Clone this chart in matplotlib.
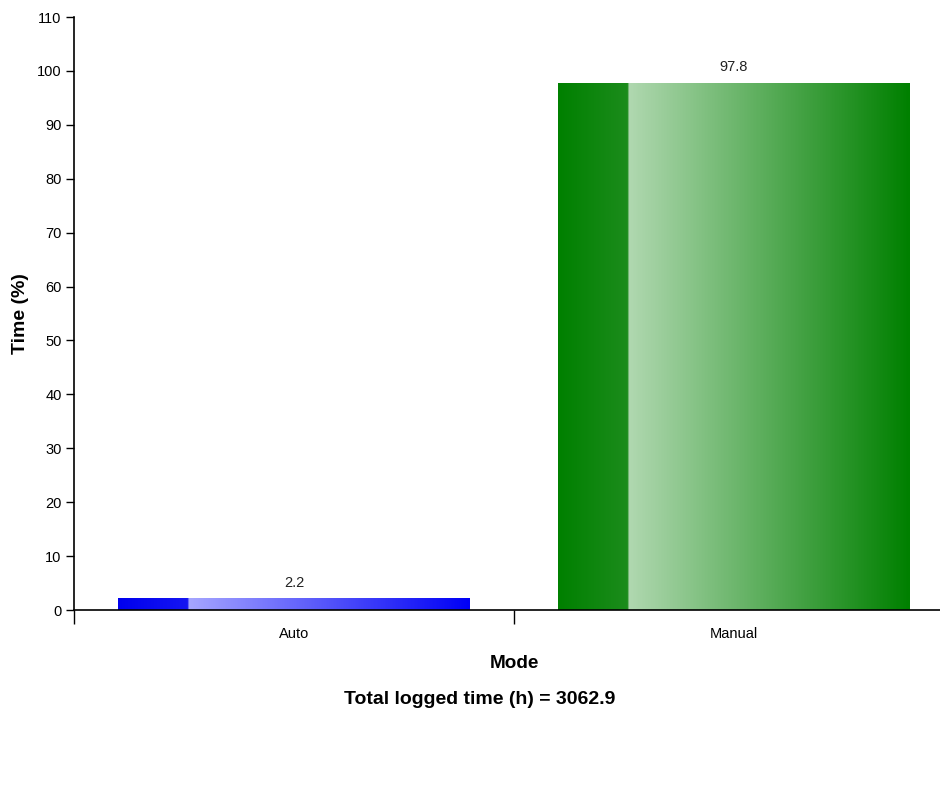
import numpy as np
import matplotlib.pyplot as plt
from matplotlib.colors import LinearSegmentedColormap

plt.rcParams['font.family'] = ['Liberation Sans', 'DejaVu Sans']

# data
modes = ['Auto', 'Manual']
time_pct = [2.2, 97.8]
total_hours = 3062.9
yticks = list(range(0, 111, 10))

# gradient colours (dark stripe on the left, then light -> dark)
grads = {
    'Auto': [(0.0, '#0000ee'), (0.199, '#1616f2'), (0.2, '#a6a6ff'), (1.0, '#0000f5')],
    'Manual': [(0.0, '#008000'), (0.199, '#1c8c1c'), (0.2, '#b0d8b0'), (1.0, '#008000')],
}

fig = plt.figure(figsize=(9.4, 7.88), dpi=100)
W, H = 940, 788
ax = fig.add_axes([74 / W, (H - 610) / H, 866 / W, 593 / H])

x = np.arange(len(modes))
bars = ax.bar(x, time_pct, width=0.8, facecolor='none', edgecolor='none', zorder=2)

grad_row = np.linspace(0, 1, 400).reshape(1, -1)
for name, b, val in zip(modes, bars, time_pct):
    cmap = LinearSegmentedColormap.from_list(name, grads[name])
    x0, w, h = b.get_x(), b.get_width(), b.get_height()
    im = ax.imshow(grad_row, cmap=cmap, aspect='auto', extent=[x0, x0 + w, 0, h],
                   interpolation='bicubic', zorder=1)
    im.set_clip_path(b)
    ax.annotate(f'{val}', (x0 + w / 2, h), xytext=(0, 6), textcoords='offset points',
                ha='center', va='bottom', fontsize=10.5, color='#222222')

ax.set_xlim(-0.5, -0.5 + 866 / 440)
ax.set_ylim(0, 110)
ax.set_yticks(yticks)
ax.tick_params(axis='y', direction='out', length=6, width=1, labelsize=10.5, pad=3)

# band boundaries as ticks, labels centred in bands
ax.set_xticks([-0.5, 0.5])
ax.set_xticklabels([])
ax.set_xticks(x, minor=True)
ax.set_xticklabels(modes, minor=True)
ax.tick_params(axis='x', which='major', direction='out', length=10, width=1)
ax.tick_params(axis='x', which='minor', length=0, labelsize=10.5, pad=12)

for s in ['top', 'right']:
    ax.spines[s].set_visible(False)
ax.spines['left'].set_linewidth(1.2)
ax.spines['bottom'].set_linewidth(1.2)

ax.set_ylabel('Time (%)', fontsize=14, fontweight='bold', labelpad=6)
fig.text(514 / W, 1 - 663 / H, 'Mode', fontsize=13.6, fontweight='bold',
         ha='center', va='center')
fig.text(480 / W, 1 - 699 / H, f'Total logged time (h) = {total_hours}', fontsize=14,
         fontweight='bold', ha='center', va='center')

fig.savefig('out.png', dpi=100)
